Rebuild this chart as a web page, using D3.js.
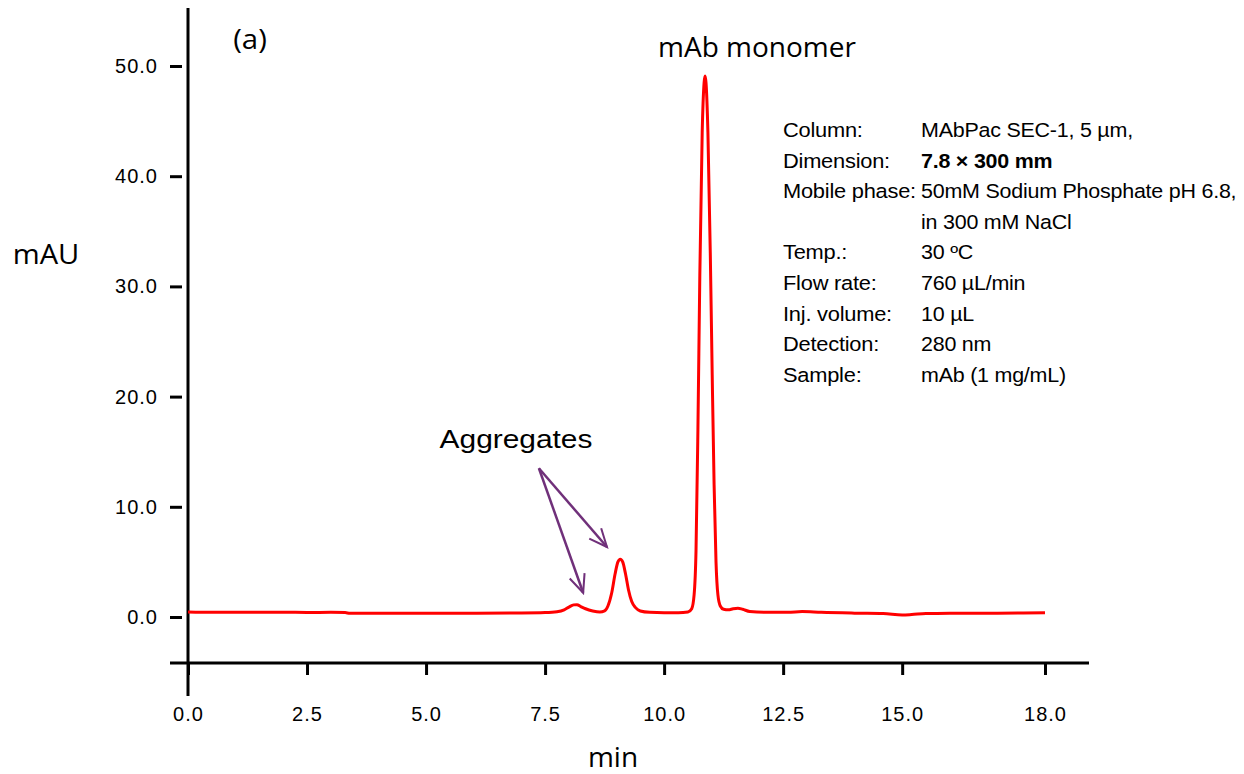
<!DOCTYPE html>
<html>
<head>
<meta charset="utf-8">
<script src="https://cdn.jsdelivr.net/npm/d3@7"></script>
<style>
  body { margin: 0; background: #fff; }
  svg { display: block; }
  .tick text { font-family: "Liberation Sans", Arial, sans-serif; font-size: 20px; fill: #000; }
  .tick line { stroke: #000; stroke-width: 3; }
</style>
</head>
<body>
<div id="chart"></div>
<script>

// chromatogram (retention time in min, absorbance in mAU)
var times = [0, 0.5, 1.0, 1.5, 2.0, 2.5, 3.0, 3.3, 3.4, 4.0, 5.0, 6.0, 7.0, 7.5, 7.75, 7.9, 8.0, 8.1, 8.17, 8.25, 8.35, 8.5, 8.65, 8.75,
  8.82, 8.9, 8.97, 9.03, 9.08, 9.13, 9.19, 9.25, 9.32, 9.4, 9.5, 9.7, 10.0, 10.3, 10.5, 10.58, 10.63, 10.67, 10.71, 10.75, 10.8,
  10.84, 10.86, 10.88, 10.92, 10.97, 11.01, 11.05, 11.09, 11.13, 11.18, 11.25, 11.35, 11.45, 11.55, 11.65, 11.8, 12.2, 12.6, 12.9,
  13.3, 14.0, 14.6, 15.0, 15.2, 15.5, 16.0, 17.0, 18.0];
var absorbance = [0.45, 0.42, 0.44, 0.42, 0.43, 0.41, 0.42, 0.40, 0.33, 0.33, 0.33, 0.34, 0.36, 0.40, 0.48, 0.65, 0.9, 1.1, 1.12, 0.95, 0.75, 0.55, 0.45, 0.55,
  1.0, 2.2, 3.9, 5.0, 5.25, 5.0, 3.9, 2.5, 1.4, 0.85, 0.55, 0.42, 0.38, 0.38, 0.45, 0.75, 2.0, 6.0, 17.0, 31.0, 44.0,
  48.5, 49.1, 48.5, 44.0, 33.0, 22.0, 12.0, 5.0, 2.0, 1.0, 0.7, 0.65, 0.75, 0.8, 0.7, 0.5, 0.42, 0.42, 0.5,
  0.42, 0.35, 0.32, 0.18, 0.22, 0.32, 0.33, 0.35, 0.38];

var xTicks = [0, 2.5, 5.0, 7.5, 10.0, 12.5, 15.0, 18.0];
var yTicks = [0, 10, 20, 30, 40, 50];

var infoLabels = ["Column:", "Dimension:", "Mobile phase:", "", "Temp.:", "Flow rate:", "Inj. volume:", "Detection:", "Sample:"];
var infoValues = ["MAbPac SEC-1, 5 µm,", "7.8 × 300 mm", "50mM Sodium Phosphate pH 6.8,", "in 300 mM NaCl", "30 ºC", "760 µL/min", "10 µL", "280 nm", "mAb (1 mg/mL)"];

// arrows: start point and two tips, in data units (min, mAU)
var arrowStart = [7.37, 13.5];
var arrowTips = [[8.8, 6.35], [8.3, 2.2]];

var width = 1244, height = 774;

var svg = d3.select("#chart").append("svg")
  .attr("width", width)
  .attr("height", height);

var xScale = d3.scaleLinear().domain([0, 18]).range([188, 1045]);
var yScale = d3.scaleLinear().domain([0, 50]).range([617, 66]);

// axis lines (drawn separately, they stick out past the ticks)
svg.append("line")
  .attr("x1", 188).attr("x2", 188).attr("y1", 8).attr("y2", 696)
  .attr("stroke", "#000").attr("stroke-width", 3);
svg.append("line")
  .attr("x1", 170).attr("x2", 1089).attr("y1", 663).attr("y2", 663)
  .attr("stroke", "#000").attr("stroke-width", 3);

var xAxis = d3.axisBottom(xScale)
  .tickValues(xTicks)
  .tickFormat(d3.format(".1f"))
  .tickSize(12)
  .tickPadding(32);

svg.append("g")
  .attr("class", "x axis")
  .attr("transform", "translate(0,663)")
  .call(xAxis)
  .call(function(g) { g.select(".domain").remove(); })
  .selectAll("text").attr("letter-spacing", "1px");

var yAxis = d3.axisLeft(yScale)
  .tickValues(yTicks)
  .tickFormat(d3.format(".1f"))
  .tickSize(12)
  .tickPadding(12);

svg.append("g")
  .attr("class", "y axis")
  .attr("transform", "translate(182,0)")
  .call(yAxis)
  .call(function(g) { g.select(".domain").remove(); })
  .selectAll("text").attr("letter-spacing", "1px");

// the trace
var line = d3.line()
  .x(function(d, i) { return xScale(times[i]); })
  .y(function(d) { return yScale(d); })
  .curve(d3.curveMonotoneX);

svg.append("path")
  .datum(absorbance)
  .attr("d", line)
  .attr("fill", "none")
  .attr("stroke", "#ff0000")
  .attr("stroke-width", 3);

// text helper, widened a bit like the original
function label(txt, x, y, size, family, anchor, sx) {
  return svg.append("text")
    .attr("transform", "translate(" + x + "," + y + ") scale(" + (sx || 1) + ",1)")
    .attr("text-anchor", anchor || "start")
    .style("font-family", family)
    .style("font-size", size + "px")
    .attr("fill", "#000")
    .text(txt);
}

var sans = '"Open Sans", "Noto Sans", sans-serif';
var arial = '"Liberation Sans", Arial, sans-serif';

label("(a)", 250, 49, 28, sans, "middle", 1.05);
label("mAb monomer", 757, 57, 28, sans, "middle", 1.0);
label("mAU", 46, 264, 28, sans, "middle", 1.04);
label("min", 613, 767, 28, sans, "middle", 1.0);
label("Aggregates", 516, 448, 26, arial, "middle", 1.15);

// arrows
svg.append("defs").append("marker")
  .attr("id", "head")
  .attr("viewBox", "0 0 10 10")
  .attr("refX", 9).attr("refY", 5)
  .attr("markerWidth", 9).attr("markerHeight", 9)
  .attr("markerUnits", "strokeWidth")
  .attr("orient", "auto")
  .append("path")
  .attr("d", "M1,1.5 L9,5 L1,8.5")
  .attr("fill", "none")
  .attr("stroke", "#70307a")
  .attr("stroke-width", 0.9);

svg.selectAll(".arrow")
  .data(arrowTips)
  .enter().append("line")
  .attr("class", "arrow")
  .attr("x1", xScale(arrowStart[0]))
  .attr("y1", yScale(arrowStart[1]))
  .attr("x2", function(d) { return xScale(d[0]); })
  .attr("y2", function(d) { return yScale(d[1]); })
  .attr("stroke", "#70307a")
  .attr("stroke-width", 2.5)
  .attr("marker-end", "url(#head)");

// method info block (stretched horizontally like the source image)
var info = svg.append("g")
  .style("font-family", arial)
  .style("font-size", "19.5px")
  .attr("letter-spacing", "-0.2px");

info.selectAll(".infolabel")
  .data(infoLabels)
  .enter().append("text")
  .attr("class", "infolabel")
  .attr("transform", function(d, i) { return "translate(783," + (137 + i * 30.6) + ") scale(1.12,1)"; })
  .text(function(d) { return d; });

info.selectAll(".infovalue")
  .data(infoValues)
  .enter().append("text")
  .attr("class", "infovalue")
  .attr("transform", function(d, i) { return "translate(921," + (137 + i * 30.6) + ") scale(1.1,1)"; })
  .style("font-weight", function(d, i) { return i === 1 ? "bold" : "normal"; })
  .text(function(d) { return d; });

</script>
</body>
</html>
